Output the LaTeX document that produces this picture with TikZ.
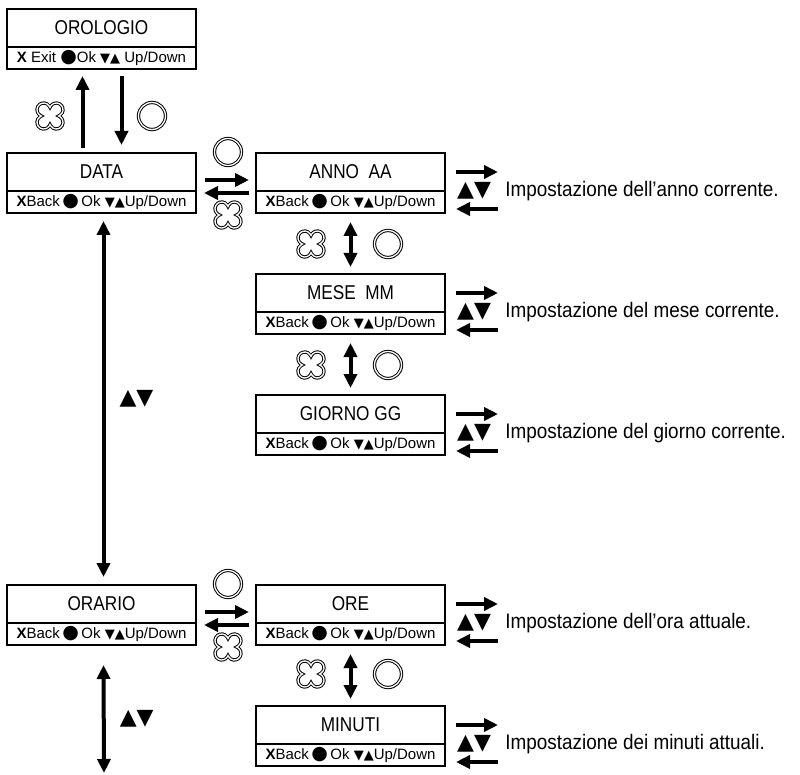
\documentclass[tikz,border=0pt]{standalone}
\usepackage{fontspec}
\setmainfont{Liberation Sans}
\newfontfamily\narrowfont{Liberation Sans}[FakeStretch=0.86]
\newfontfamily\descfont{Liberation Sans}[FakeStretch=0.9]
\newfontfamily\symfont{DejaVu Sans}
\usetikzlibrary{positioning}
\usetikzlibrary{arrows.meta}
\usetikzlibrary{calc}
\tikzset{>={Triangle[length=14pt,width=13pt]}}
\tikzset{menu/.style={draw, line width=1.2pt, minimum width=189pt, minimum height=38pt, inner sep=0pt, outer sep=0pt, font=\narrowfont\fontsize{20}{22}\selectfont}}
\tikzset{keys/.style={draw, line width=1.2pt, minimum width=189pt, minimum height=22pt, inner sep=0pt, outer sep=0pt, font=\fontsize{15}{16}\selectfont}}
\tikzset{fat/.style={line width=4pt}}
\tikzset{okbtn/.style={draw, circle, minimum size=27pt, inner sep=0pt, line width=1pt, double=white, double distance=1.3pt}}
\tikzset{ud/.style={inner sep=0pt, font=\symfont\fontsize{22}{22}\selectfont}}
\tikzset{desc/.style={inner sep=0pt, anchor=west, font=\descfont\fontsize{21}{23}\selectfont}}
\tikzset{clover/.pic={
  \draw[line width=1pt, double=white, double distance=1.3pt]
    (9.65,0.498) arc[start angle=-60, end angle=150, radius=6.7]
    .. controls (-0.252,8.35) and (0.252,8.35) .. (-0.498,9.65)
    arc[start angle=30, end angle=240, radius=6.7]
    .. controls (-8.35,-0.252) and (-8.35,0.252) .. (-9.65,-0.498)
    arc[start angle=120, end angle=330, radius=6.7]
    .. controls (0.252,-8.35) and (-0.252,-8.35) .. (0.498,-9.65)
    arc[start angle=210, end angle=420, radius=6.7]
    .. controls (8.35,0.252) and (8.35,-0.252) .. cycle;
}}
\newcommand{\okdot}{{\symfont\fontsize{19}{15}\selectfont●}}
\newcommand{\keyud}{{\symfont\fontsize{13}{15}\selectfont▼▲}}
\newcommand{\keysback}{\textbf{X}Back\,\okdot\,Ok \keyud Up/Down}

\begin{document}
\begin{tikzpicture}[x=1pt, y=-1pt]
\useasboundingbox (0,0) rectangle (800,775);

% menu boxes
\node (orologio) [menu, anchor=north west] at (7,9) {OROLOGIO};
\node (orologiok) [keys, below=0pt of orologio] {\textbf{X} Exit \okdot Ok \keyud\ Up/Down};
\node (data) [menu, anchor=north west] at (7,153) {DATA};
\node (datak) [keys, below=0pt of data] {\keysback};
\node (anno) [menu, right=60pt of data] {ANNO\ \ AA};
\node (annok) [keys, below=0pt of anno] {\keysback};
\node (mese) [menu, below=61pt of annok] {MESE\ \ MM};
\node (mesek) [keys, below=0pt of mese] {\keysback};
\node (giorno) [menu, below=61pt of mesek] {GIORNO GG};
\node (giornok) [keys, below=0pt of giorno] {\keysback};
\node (orario) [menu, anchor=north west] at (7,585) {ORARIO};
\node (orariok) [keys, below=0pt of orario] {\keysback};
\node (ore) [menu, right=60pt of orario] {ORE};
\node (orek) [keys, below=0pt of ore] {\keysback};
\node (minuti) [menu, below=61pt of orek] {MINUTI};
\node (minutik) [keys, below=0pt of minuti] {\keysback};

% orologio <-> data
\draw[fat,->] ([shift={(-19pt,5pt)}]data.north) -- ([shift={(-19pt,-7pt)}]orologiok.south);
\draw[fat,->] ([shift={(20pt,-7pt)}]orologiok.south) -- ([shift={(20pt,8pt)}]data.north);
\pic (back0) at (50,116) {clover};
\node (ok0) [okbtn] at (152,116) {};

% data <-> anno, orario <-> ore
\draw[fat,->] ([shift={(9pt,-8pt)}]data.east) -- ([shift={(-7pt,-8pt)}]anno.west);
\draw[fat,->] ([shift={(-7pt,-21pt)}]anno.west) -- ([shift={(8pt,-21pt)}]data.east);
\node (ok1) [okbtn] at (228,152) {};
\pic (back1) at (228,215) {clover};
\draw[fat,->] ([shift={(9pt,-8pt)}]orario.east) -- ([shift={(-7pt,-8pt)}]ore.west);
\draw[fat,->] ([shift={(-7pt,-21pt)}]ore.west) -- ([shift={(8pt,-21pt)}]orario.east);
\node (ok4) [okbtn] at (228,584) {};
\pic (back4) at (228,647) {clover};

% sub menus
\draw[fat,<->] ([yshift=-9pt]annok.south) -- ([yshift=7pt]mese.north);
\pic (back2) at (311,244) {clover};
\node (ok2) [okbtn] at (388,244) {};
\draw[fat,<->] ([yshift=-9pt]mesek.south) -- ([yshift=7pt]giorno.north);
\pic (back3) at (311,365) {clover};
\node (ok3) [okbtn] at (388,365) {};
\draw[fat,<->] ([yshift=-9pt]orek.south) -- ([yshift=7pt]minuti.north);
\pic (back5) at (311,674) {clover};
\node (ok5) [okbtn] at (388,674) {};

% data <-> orario
\draw[fat,<->] ([shift={(2pt,-8pt)}]datak.south) -- ([shift={(2pt,8pt)}]orario.north)
  node[ud, pos=.5, right=14pt] (udmain) {▲▼};
\coordinate (orarioend) at (104,773);
\draw[fat,<->] ([shift={(2pt,-20pt)}]orariok.south) -- (orarioend)
  node[ud, pos=.5, right=14pt] (udorario) {▲▼};

% settings
\foreach \b/\t in {anno/dell’anno corrente., mese/del mese corrente., giorno/del giorno corrente., ore/dell’ora attuale., minuti/dei minuti attuali.}{
  \node (\b ud) [ud, anchor=west] at ([xshift=12pt]\b k.north east) {▲▼};
  \node (\b tx) [desc, right=14pt of \b ud] {Impostazione \t};
  \draw[fat,->] ([xshift=11pt]\b.east) -- ([xshift=53pt]\b.east);
  \draw[fat,->] ([shift={(53pt,-7pt)}]\b k.east) -- ([shift={(11pt,-7pt)}]\b k.east);
}
\end{tikzpicture}
\end{document}
